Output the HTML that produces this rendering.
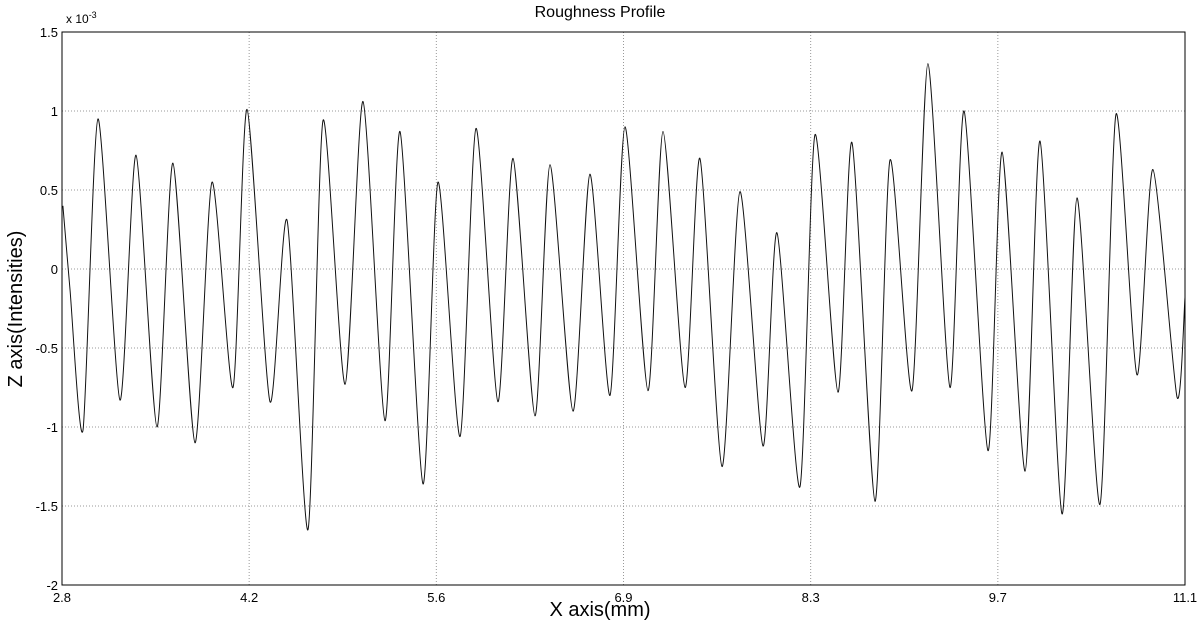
<!DOCTYPE html>
<html><head><meta charset="utf-8"><style>
html,body{margin:0;padding:0;background:#fff;}
svg{display:block;font-family:"Liberation Sans",Arial,sans-serif;}
</style></head><body>
<svg width="1200" height="634" viewBox="0 0 1200 634">
<rect x="0" y="0" width="1200" height="634" fill="#fff"/>
<g id="grid"></g>
<g id="ticks"></g>
<path id="series" fill="none" stroke="#111" stroke-width="1"/>
<rect x="62" y="32" width="1123" height="553" fill="none" stroke="#000" stroke-width="1"/>
<text x="600" y="17" text-anchor="middle" font-size="16">Roughness Profile</text>
<text x="66" y="23" font-size="12">x 10<tspan dy="-5" font-size="9">-3</tspan></text>
<text x="600" y="616" text-anchor="middle" font-size="20">X axis(mm)</text>
<text x="0" y="0" transform="translate(22,309) rotate(-90)" text-anchor="middle" font-size="20">Z axis(Intensities)</text>
</svg>
<script>
const xTicks=[2.8,4.1833,5.5667,6.95,8.3333,9.7167,11.1];
const xTickLabels=["2.8","4.2","5.6","6.9","8.3","9.7","11.1"];
const yTicks=[1.5,1,0.5,0,-0.5,-1,-1.5,-2];
const yTickLabels=["1.5","1","0.5","0","-0.5","-1","-1.5","-2"];
const xVals=[2.807,2.859,2.955,3.066,3.229,3.347,3.502,3.620,3.783,3.909,4.064,4.167,4.337,4.463,4.618,4.729,4.892,5.025,5.187,5.298,5.468,5.579,5.742,5.860,6.022,6.133,6.296,6.407,6.577,6.702,6.850,6.961,7.131,7.242,7.405,7.515,7.678,7.811,7.981,8.084,8.254,8.365,8.535,8.639,8.809,8.920,9.082,9.200,9.363,9.467,9.644,9.748,9.918,10.028,10.191,10.302,10.472,10.590,10.745,10.863,11.041,11.100];
const zVals=[0.4,-0.13,-1.02,0.95,-0.83,0.72,-1.0,0.67,-1.1,0.55,-0.75,1.01,-0.84,0.31,-1.65,0.94,-0.73,1.06,-0.96,0.87,-1.36,0.55,-1.06,0.89,-0.84,0.7,-0.93,0.66,-0.9,0.6,-0.8,0.9,-0.77,0.87,-0.75,0.7,-1.25,0.49,-1.12,0.23,-1.38,0.85,-0.78,0.8,-1.47,0.69,-0.77,1.3,-0.75,1.0,-1.15,0.74,-1.28,0.81,-1.55,0.45,-1.49,0.98,-0.67,0.63,-0.81,-0.18];
const L=62,R=1185,T=32,B=585;
const sx=v=>L+(v-2.8)/(11.1-2.8)*(R-L);
const sy=v=>B-(v+2)/3.5*(B-T);
const NS="http://www.w3.org/2000/svg";
const grid=document.getElementById('grid'),ticks=document.getElementById('ticks');
xTicks.forEach((v,i)=>{
 const x=sx(v);
 if(i>0&&i<xTicks.length-1){const g=document.createElementNS(NS,'line');
 
 
 g.setAttribute('x1',x);g.setAttribute('x2',x);g.setAttribute('y1',T);g.setAttribute('y2',B);
 g.setAttribute('stroke','#999');g.setAttribute('stroke-dasharray','1,2');grid.appendChild(g);}
 const t=document.createElementNS(NS,'text');
 
 
 t.setAttribute('x',x);t.setAttribute('y',B+17);t.setAttribute('text-anchor','middle');t.setAttribute('font-size','13');
 t.textContent=xTickLabels[i];ticks.appendChild(t);
});
yTicks.forEach((v,i)=>{
 const y=sy(v);
 if(i>0&&i<yTicks.length-1){const g=document.createElementNS(NS,'line');
 
 
 g.setAttribute('x1',L);g.setAttribute('x2',R);g.setAttribute('y1',y);g.setAttribute('y2',y);
 g.setAttribute('stroke','#999');g.setAttribute('stroke-dasharray','1,2');grid.appendChild(g);}
 const t=document.createElementNS(NS,'text');
 
 
 t.setAttribute('x',L-4);t.setAttribute('y',y+5);t.setAttribute('text-anchor','end');t.setAttribute('font-size','13');
 t.textContent=yTickLabels[i];ticks.appendChild(t);
});
const pts=xVals.map((v,i)=>[sx(v),sy(zVals[i])]);
let d='M'+pts[0][0].toFixed(1)+','+pts[0][1].toFixed(1);
for(let i=0;i<pts.length-1;i++){
 const p0=pts[Math.max(0,i-1)],p1=pts[i],p2=pts[i+1],p3=pts[Math.min(pts.length-1,i+2)];
 const k=0.12;
 const c1=[p1[0]+(p2[0]-p0[0])*k,p1[1]+(p2[1]-p0[1])*k];
 const c2=[p2[0]-(p3[0]-p1[0])*k,p2[1]-(p3[1]-p1[1])*k];
 d+=' C'+c1.map(n=>n.toFixed(1)).join(',')+' '+c2.map(n=>n.toFixed(1)).join(',')+' '+p2.map(n=>n.toFixed(1)).join(',');
}
document.getElementById('series').setAttribute('d',d);
</script>
</body></html>
